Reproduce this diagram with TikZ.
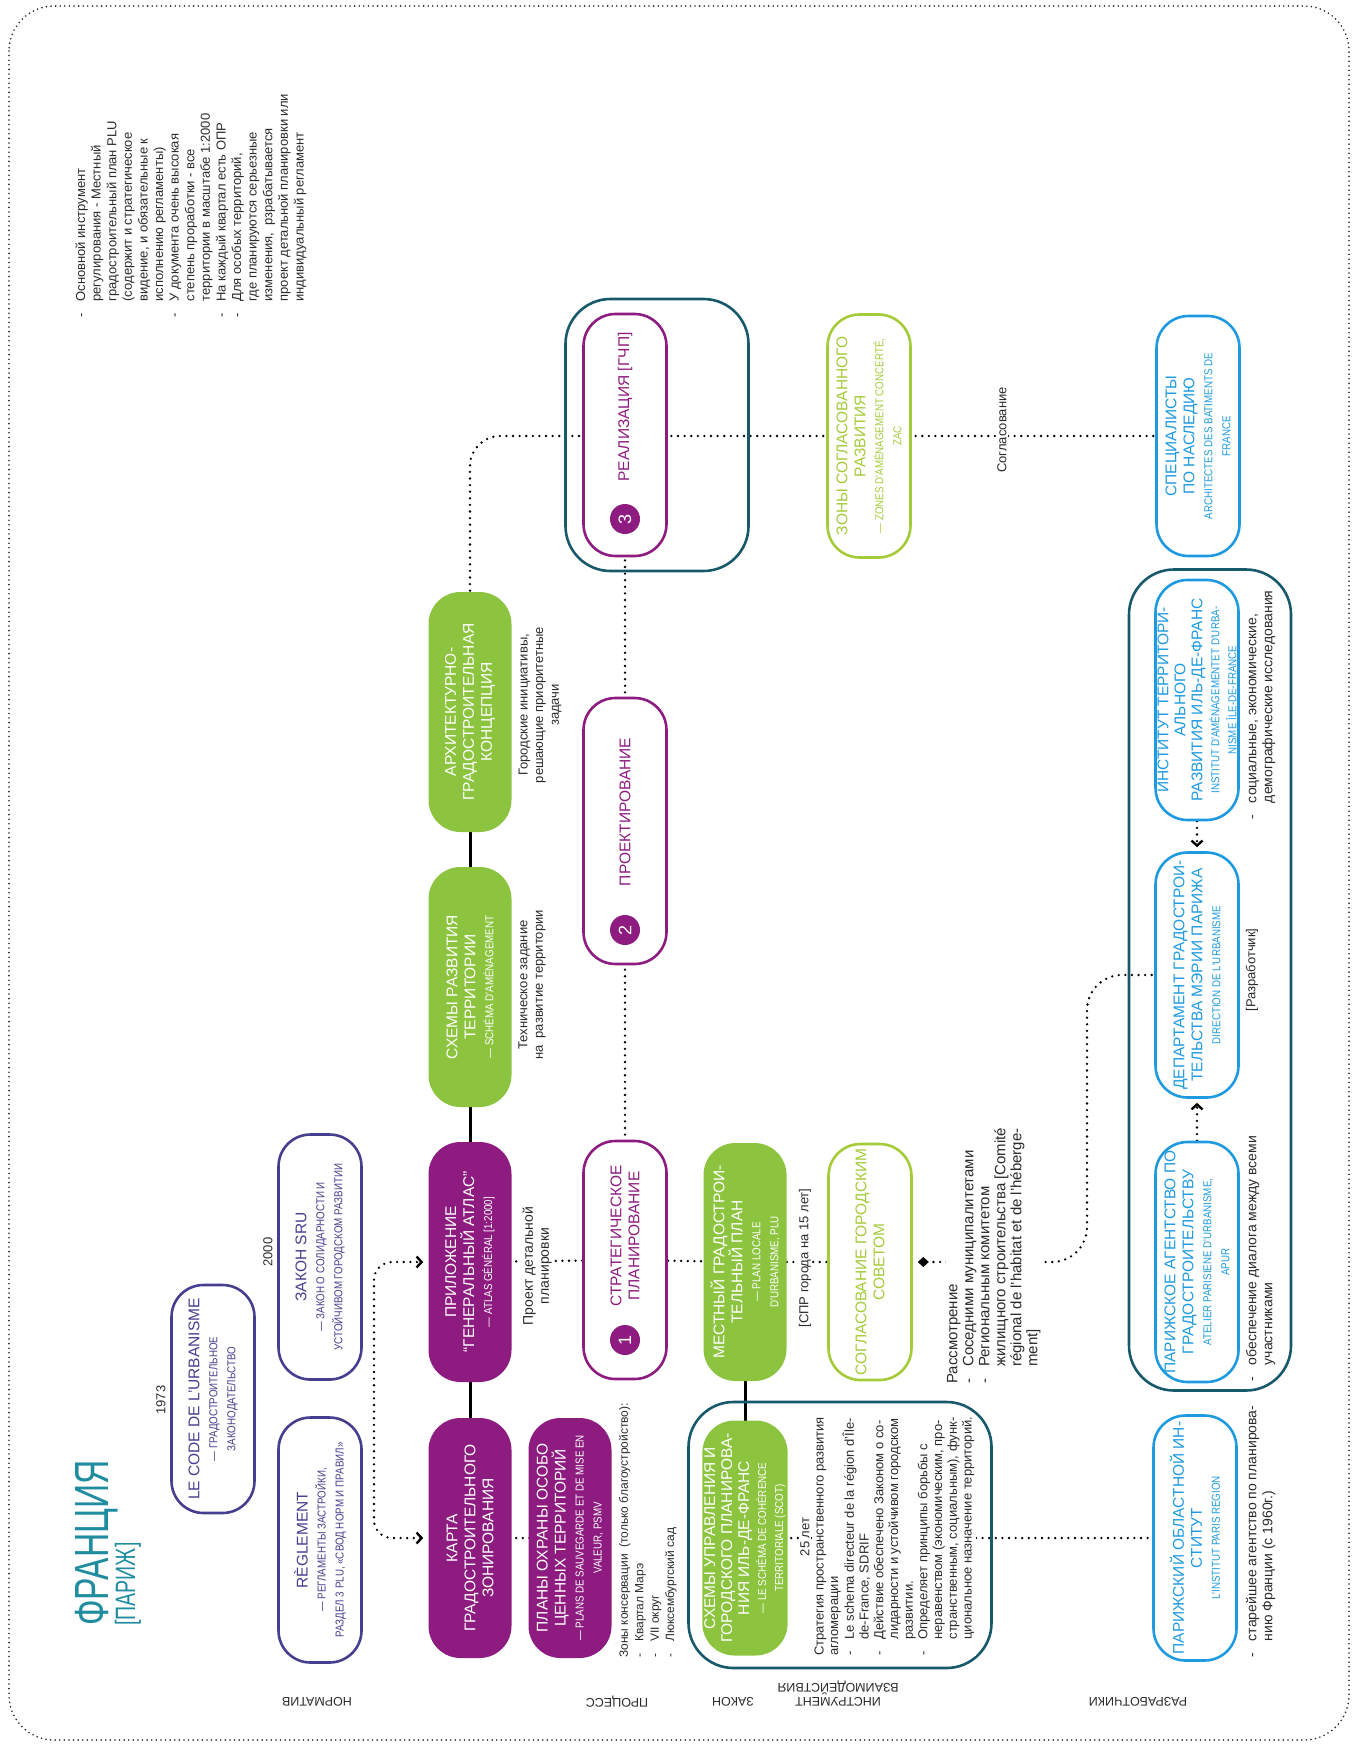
\documentclass[tikz,border=0pt]{standalone}
\usepackage{fontspec}
\setmainfont{Liberation Sans}
\newfontfamily\narrowsans{Liberation Sans}[FakeStretch=0.85]
\newfontfamily\headsans{Liberation Sans}[FakeStretch=0.7]
\usetikzlibrary{arrows.meta}

\definecolor{plum}{HTML}{8E1C80}
\definecolor{normblue}{HTML}{463F8F}
\definecolor{leaf}{HTML}{8DC43F}
\definecolor{lime}{HTML}{A5CB39}
\definecolor{deepteal}{HTML}{17596B}
\definecolor{sky}{HTML}{1E9BE0}
\definecolor{headteal}{HTML}{1F8CA0}
\definecolor{ink}{HTML}{2A2A2A}

\newcommand\boxfont{\fontsize{15.5}{18}\selectfont}
\newcommand\subfont{\narrowsans\fontsize{11.5}{13}\selectfont}
\newcommand\notefont{\fontsize{13}{15.6}\selectfont}
\newcommand\smallnotefont{\fontsize{12}{15.4}\selectfont}
\newcommand\framenotefont{\fontsize{13}{14.7}\selectfont}
\newcommand\largenotefont{\fontsize{14}{16}\selectfont}
\newcommand\reviewfont{\fontsize{15}{16}\selectfont}

\pgfdeclarelayer{links}
\pgfsetlayers{links,main}

\tikzset{
  pill/.style={rectangle, rounded corners=32pt, minimum width=240pt, minimum height=83pt,
    rotate=90, align=center, inner sep=2pt, line width=2.6pt, font=\boxfont},
  normbox/.style={pill, draw=normblue, fill=white, text=normblue},
  procbox/.style={pill, fill=plum, text=white},
  lawbox/.style={pill, fill=leaf, text=white},
  stagebox/.style={pill, draw=plum, fill=white, text=plum},
  agreebox/.style={pill, draw=lime, fill=white, text=lime},
  devbox/.style={pill, draw=sky, fill=white, text=sky},
  tealframe/.style={draw=deepteal, line width=2.6pt, rounded corners=45pt},
  numdisc/.style={circle, fill=plum, text=white, minimum size=30pt, inner sep=0pt,
    rotate=90, font=\fontsize{18}{18}\selectfont},
  stagetext/.style={rotate=90, align=center, inner sep=0pt, text=plum, font=\boxfont},
  note/.style={rotate=90, inner sep=0pt, align=left, font=\notefont, text=ink},
  cnote/.style={rotate=90, inner sep=1pt, align=center, font=\notefont, text=ink},
  rowlabel/.style={rotate=180, inner sep=0pt, align=center,
    font=\fontsize{12.5}{14}\selectfont, text=ink},
  dotlink/.style={line width=2.6pt, dash pattern=on 0pt off 6.6pt, line cap=round, draw=black},
  bar/.style={line width=3pt, draw=black},
  chev/.tip={Straight Barb[length=5pt, width=11pt, line width=2.4pt]},
}

\begin{document}
\begin{tikzpicture}[x=1pt, y=-1pt]
\useasboundingbox (0,0) rectangle (1355,1744);
% dotted outer border
\draw[line width=1.8pt, dash pattern=on 0pt off 4.6pt, line cap=round, draw=black!85,
  rounded corners=45pt] (9,6) rectangle (1349,1740);

% heading
\node[rotate=90, anchor=base west, inner sep=0pt, text=headteal,
  font=\headsans\fontsize{48}{48}\selectfont] (title) at (108,1626) {ФРАНЦИЯ};
\node[rotate=90, anchor=base west, inner sep=0pt, text=headteal,
  font=\headsans\fontsize{28}{28}\selectfont] (city) at (135,1626) {[ПАРИЖ]};

% general note
\node[note, anchor=north west] (plunote) at (74,318) {%
\begin{tabular}{@{}l@{\hspace{12pt}}l@{}}
- & Основной инструмент\\
  & регулирования - Местный\\
  & градостроительный план PLU\\
  & (содержит и стратегическое\\
  & видение, и обязательные к\\
  & исполнению регламенты)\\
- & У документа очень высокая\\
  & степень проработки - все\\
  & территории в масштабе 1:2000\\
- & На каждый квартал есть ОПР\\
- & Для особых территорий,\\
  & где планируются серьезные\\
  & изменения,\ \ рзрабатывается\\
  & проект детальной планировки или\\
  & индивидуальный регламент
\end{tabular}};

% norms
\node[rotate=90, text=ink, font=\fontsize{13}{13}\selectfont] (y1973) at (161,1400) {1973};
\node[rotate=90, text=ink, font=\fontsize{13}{13}\selectfont] (y2000) at (268,1252) {2000};
\node[normbox, minimum width=228pt] (code) at (213,1399)
  {LE CODE DE L'URBANISME\\\subfont — ГРАДОСТРОИТЕЛЬНОЕ\\\subfont ЗАКОНОДАТЕЛЬСТВО};
\node[normbox, minimum width=245pt] (regl) at (320,1540)
  {RÈGLEMENT\\\subfont — РЕГЛАМЕНТЫ ЗАСТРОЙКИ,\\\subfont РАЗДЕЛ 3 PLU, «СВОД НОРМ И ПРАВИЛ»};
\node[normbox, minimum width=245pt] (sru) at (320,1257)
  {ЗАКОН SRU\\\subfont — ЗАКОН О СОЛИДАРНОСТИ И\\\subfont УСТОЙЧИВОМ ГОРОДСКОМ РАЗВИТИИ};

% process
\node[procbox] (karta) at (470,1538) {КАРТА\\ГРАДОСТРОИТЕЛЬНОГО\\ЗОНИРОВАНИЯ};
\node[procbox] (atlas) at (470,1262)
  {ПРИЛОЖЕНИЕ\\“ГЕНЕРАЛЬНЫЙ АТЛАС”\\\subfont — ATLAS GÉNÉRAL [1:2000]};
\node[lawbox] (schema) at (470,987) {СХЕМЫ РАЗВИТИЯ\\ТЕРРИТОРИИ\\\subfont — SCHÉMA D'AMÉNAGEMENT};
\node[lawbox] (concept) at (470,712) {АРХИТЕКТУРНО-\\ГРАДОСТРОИТЕЛЬНАЯ\\КОНЦЕПЦИЯ};
\node[procbox] (psmv) at (570,1538)
  {ПЛАНЫ ОХРАНЫ ОСОБО\\ЦЕННЫХ ТЕРРИТОРИЙ\\\subfont — PLANS DE SAUVEGARDE ET DE MISE EN\\\subfont VALEUR, PSMV};

\node[cnote, fill=white, font=\largenotefont] (pdp) at (537,1266) {Проект детальной\\планировки};
\node[cnote] (tz) at (532,985) {Техническое задание\\на\ \ развитие территории};
\node[cnote] (gi) at (540,705) {Городские инициативы,\\решающие приоритетные\\задачи};
\node[note, anchor=north west, font=\smallnotefont] (zones) at (617,1658) {%
\begin{tabular}{@{}l@{\hspace{12pt}}l@{}}
\multicolumn{2}{@{}l@{}}{Зоны консервации\ \ (только благоустройство):}\\
- & Квартал Марэ\\
- & VII округ\\
- & Люксембургский сад
\end{tabular}};

% stages
\node[stagebox, minimum width=238pt] (st1) at (625,1260) {};
\node[numdisc] (n1) at (625,1340) {1};
\node[stagetext] (t1) at (625,1236) {СТРАТЕГИЧЕСКОЕ\\ПЛАНИРОВАНИЕ};
\node[stagebox, minimum width=266pt] (st2) at (625,831) {};
\node[numdisc] (n2) at (625,930) {2};
\node[stagetext] (t2) at (625,812) {ПРОЕКТИРОВАНИЕ};
\node[stagebox, minimum width=242pt] (st3) at (625,435) {};
\node[numdisc] (n3) at (625,519) {3};
\node[stagetext] (t3) at (625,407) {РЕАЛИЗАЦИЯ [ГЧП]};
\node[tealframe, minimum width=183pt, minimum height=272pt] (frame3) at (657,435) {};

% law
\node[lawbox, minimum width=238pt] (plu) at (745,1262)
  {МЕСТНЫЙ ГРАДОСТРОИ-\\ТЕЛЬНЫЙ ПЛАН\\\subfont — PLAN LOCALE\\\subfont D'URBANISME, PLU};
\node[lawbox, minimum width=235pt, font=\fontsize{15.5}{17}\selectfont] (scot) at (745,1538)
  {СХЕМЫ УПРАВЛЕНИЯ И\\ГОРОДСКОГО ПЛАНИРОВА-\\НИЯ ИЛЬ-ДЕ-ФРАНС\\\subfont — LE SCHÉMA DE COHÉRENCE\\\subfont TERRITORIALE (SCOT)};
\node[tealframe, minimum width=303pt, minimum height=266pt] (framescot) at (840,1535) {};
\node[cnote, fill=white] (spr) at (805,1258) {[СПР города на 15 лет]};

% interaction tools
\node[agreebox, minimum width=236pt] (council) at (870,1262) {СОГЛАСОВАНИЕ ГОРОДСКИМ\\СОВЕТОМ};
\node[agreebox, minimum width=243pt] (zac) at (869,436)
  {ЗОНЫ СОГЛАСОВАННОГО\\РАЗВИТИЯ\\\subfont — ZONES D'AMÉNAGEMENT CONCERTÉ,\\\subfont ZAC};
\node[cnote, fill=white] (yrs) at (805,1537) {25 лет};
\node[note, anchor=north west, fill=white, font=\framenotefont] (sdrif) at (813,1656) {%
\begin{tabular}{@{}l@{\hspace{12pt}}l@{}}
\multicolumn{2}{@{}l@{}}{Стратегия пространственного развития}\\
\multicolumn{2}{@{}l@{}}{агломерации}\\
- & Le schema directeur de la région d'Île-\\
  & de-France, SDRIF\\
- & Действие обеспечено Законом о со-\\
  & лидарности и устойчивом городском\\
  & развитии.\\
- & Определяет принципы борьбы с\\
  & неравенством (экономическим, про-\\
  & странственным, социальным), функ-\\
  & циональное назначение территорий.
\end{tabular}};
\node[note, anchor=north west, fill=white, font=\reviewfont] (review) at (946,1384) {%
\begin{tabular}{@{}l@{\hspace{12pt}}l@{}}
\multicolumn{2}{@{}l@{}}{Рассмотрение}\\
- & Соседними муниципалитетами\\
- & Региональным комитетом\\
  & жилищного строительства [Comité\\
  & régional de l'habitat et de l'héberge-\\
  & ment]
\end{tabular}};
\node[cnote, fill=white] (consult) at (1002,430) {Согласование};

% developers
\node[tealframe, minimum width=162pt, minimum height=821pt] (framedev) at (1210,980) {};
\node[devbox, minimum width=245pt] (ipr) at (1195,1538)
  {ПАРИЖСКИЙ ОБЛАСТНОЙ ИН-\\СТИТУТ\\\subfont L'INSTITUT PARIS REGION};
\node[note, anchor=north west, font=\largenotefont] (iprnote) at (1245,1658) {%
\begin{tabular}{@{}l@{\hspace{12pt}}l@{}}
- & старейшее агентство по планирова-\\
  & нию Франции (с 1960г.)
\end{tabular}};
\node[devbox] (apur) at (1197,1262)
  {ПАРИЖСКОЕ АГЕНТСТВО ПО\\ГРАДОСТРОИТЕЛЬСТВУ\\\subfont ATELIER PARISIENE D'URBANISME,\\\subfont APUR};
\node[note, anchor=north west, font=\largenotefont] (apurnote) at (1245,1382) {%
\begin{tabular}{@{}l@{\hspace{12pt}}l@{}}
- & обеспечение диалога между всеми\\
  & участниками
\end{tabular}};
\node[devbox, minimum width=245pt] (dir) at (1197,975)
  {ДЕПАРТАМЕНТ ГРАДОСТРОИ-\\ТЕЛЬСТВА МЭРИИ ПАРИЖА\\\subfont DIRECTION DE L'URBANISME};
\node[cnote] (devrole) at (1252,970) {[Разработчик]};
\node[devbox, font=\fontsize{15.5}{17}\selectfont] (iau) at (1197,700)
  {ИНСТИТУТ ТЕРРИТОРИ-\\АЛЬНОГО\\РАЗВИТИЯ ИЛЬ-ДЕ-ФРАНС\\\subfont INSTITUT D'AMÉNAGEMENTET D'URBA-\\\subfont NISME ÎLE-DE-FRANCE};
\node[note, anchor=north west, font=\largenotefont] (iaunote) at (1245,820) {%
\begin{tabular}{@{}l@{\hspace{12pt}}l@{}}
- & социальные, экономические,\\
  & демографические исследования
\end{tabular}};
\node[devbox] (abf) at (1198,436)
  {СПЕЦИАЛИСТЫ\\ПО НАСЛЕДИЮ\\\subfont ARCHITECTES DES BATIMENTS DE\\\subfont FRANCE};

% row captions
\node[rowlabel] (labnorm) at (317,1702) {НОРМАТИВ};
\node[rowlabel] (labproc) at (617,1702) {ПРОЦЕСС};
\node[rowlabel] (lablaw) at (733,1702) {ЗАКОН};
\node[rowlabel] (labtool) at (838,1694) {ИНСТРУМЕНТ\\ВЗАИМОДЕЙСТВИЯ};
\node[rowlabel] (labdev) at (1138,1702) {РАЗРАБОТЧИКИ};

% connectors
\begin{pgfonlayer}{links}
\draw[bar] (karta.center) -- (atlas.center) -- (schema.center) -- (concept.center);
\draw[bar] (plu.center) -- (scot.center);
\draw[dotlink] (karta.center) -- (psmv.center);
\draw[dotlink] (atlas.center) -- (st1.center) -- (plu.center) -- (council.center);
\draw[dotlink] (st1.center) -- (st2.center) -- (st3.center);
\draw[dotlink, rounded corners=30pt] (concept.east) |- (abf.center);
\draw[dotlink] (scot.center) -- (ipr.center);
\draw[dotlink, {Diamond[length=11pt,width=10pt]}-, shorten <=5pt, rounded corners=35pt]
  (council.south) -- (1087,1262) |- (dir.north);
\draw[dotlink, -chev, shorten >=4pt] (apur.east) -- (dir.west);
\draw[dotlink, -chev, shorten >=4pt] (iau.west) -- (dir.east);
\draw[dotlink, chev-chev, shorten <=4pt, shorten >=4pt, rounded corners=18pt]
  (karta.north) -- (374,1538) -- (374,1262) -- (atlas.north);
\end{pgfonlayer}
\end{tikzpicture}
\end{document}
